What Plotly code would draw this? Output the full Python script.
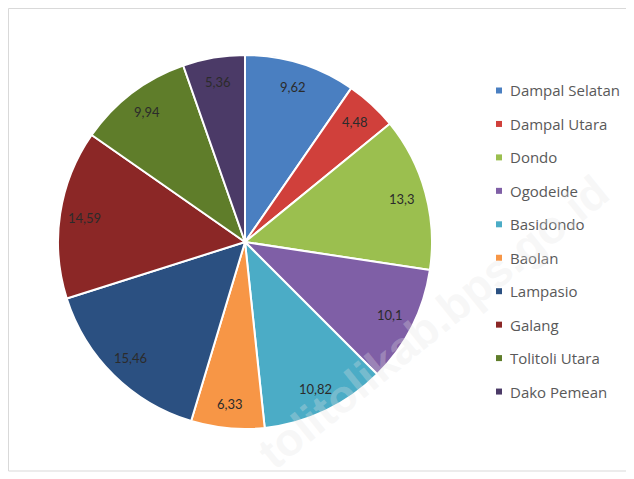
import math
import plotly.graph_objects as go

# ---- data ----
labels = ["Dampal Selatan", "Dampal Utara", "Dondo", "Ogodeide", "Basidondo",
          "Baolan", "Lampasio", "Galang", "Tolitoli Utara", "Dako Pemean"]
values = [9.62, 4.48, 13.3, 10.1, 10.82, 6.33, 15.46, 14.59, 9.94, 5.36]
colors = ["#4A7FC1", "#D0403B", "#9BBF4F", "#7F5FA6", "#4BACC6",
          "#F79646", "#2B5081", "#8B2726", "#5F7D2A", "#4B3A67"]

W, H = 634, 479
OFF = 8  # page body margin
# pie geometry in page pixels
cx, cy, R = 245, 242, 187

def px(x):
    return (x - OFF) / W

def py(y):
    return 1 - (y - OFF) / H

fig = go.Figure()
fig.add_trace(go.Pie(
    labels=labels, values=values, sort=False, direction="clockwise", rotation=0,
    marker=dict(colors=colors, line=dict(color="white", width=2)),
    textinfo="none", showlegend=False, hoverinfo="label+value",
    domain=dict(x=[px(cx - R), px(cx + R)], y=[py(cy + R), py(cy - R)]),
))

annotations = []
shapes = []

# data labels at "inside end" positions, derived from cumulative values
total = sum(values)
cum = 0.0
for v in values:
    a = 2 * math.pi * (cum + v / 2) / total
    cum += v
    lx = cx + 0.87 * R * math.sin(a)
    ly = cy - 0.87 * R * math.cos(a)
    txt = ("%g" % v).replace(".", ",")
    annotations.append(dict(x=px(lx), y=py(ly), xref="paper", yref="paper",
                            xanchor="center", yanchor="middle",
                            text=txt, showarrow=False,
                            font=dict(family="Lato", size=13, color="#2B2B2B")))

# legend (manual, Excel-like spacing)
ly0, gap = 90.5, 33.45
for i, (lab, col) in enumerate(zip(labels, colors)):
    yy = ly0 + i * gap
    shapes.append(dict(type="rect", xref="paper", yref="paper",
                       x0=px(496), x1=px(502), y0=py(yy + 3), y1=py(yy - 3),
                       fillcolor=col, line=dict(width=0)))
    annotations.append(dict(x=px(508), y=py(yy), xref="paper", yref="paper",
                            text=lab, showarrow=False,
                            xanchor="left", yanchor="middle",
                            font=dict(family="Open Sans", size=15, color="#595959")))

# chart frame
shapes.append(dict(type="rect", xref="paper", yref="paper",
                   x0=px(8.5), x1=px(632), y0=py(471), y1=py(8.5),
                   line=dict(color="#D9D9D9", width=1), fillcolor="rgba(0,0,0,0)"))

# watermark
annotations.append(dict(x=px(433), y=py(322), xref="paper", yref="paper",
                        xanchor="center", yanchor="middle",
                        text="<b>tolitolikab.bps.go.id</b>", showarrow=False,
                        textangle=-39,
                        font=dict(family="Liberation Sans", size=46,
                                  color="rgba(228,228,228,0.3)")))

fig.update_layout(
    width=W, height=H, margin=dict(l=0, r=0, t=0, b=0),
    paper_bgcolor="white", plot_bgcolor="white",
    annotations=annotations, shapes=shapes, showlegend=False,
)

fig.write_html("out.html")
